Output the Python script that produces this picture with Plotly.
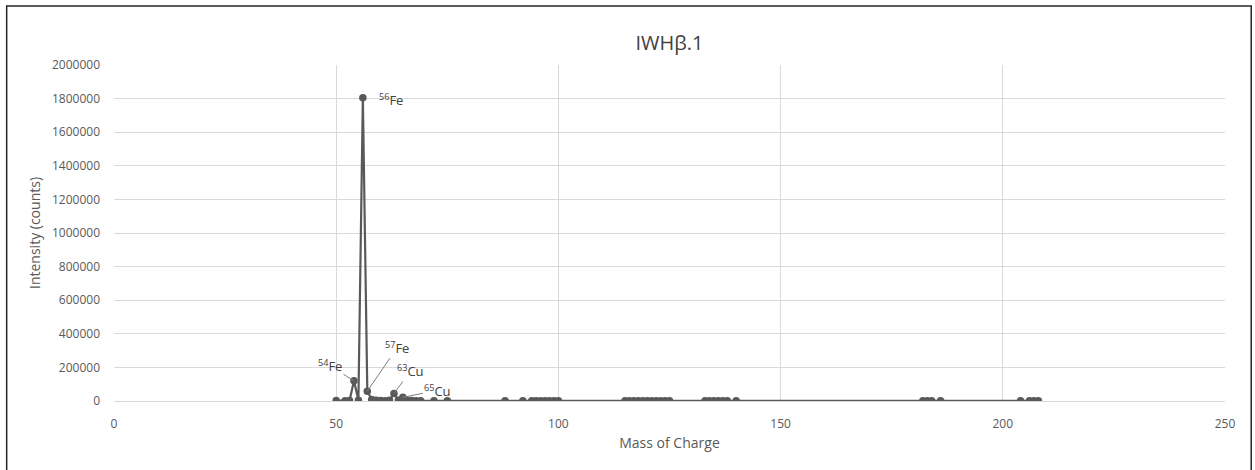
import plotly.graph_objects as go

mass = [50, 52, 53, 54, 55, 56, 57, 58, 59, 60, 61, 62, 63, 64, 65, 66, 67, 68, 69, 72, 75,
        88, 92, 94, 95, 96, 97, 98, 99, 100,
        115, 116, 117, 118, 119, 120, 121, 122, 123, 124, 125,
        133, 134, 135, 136, 137, 138, 140,
        182, 183, 184, 186,
        204, 206, 207, 208]
intensity = [3000, 2000, 3000, 120000, 4000, 1805000, 58000, 9000, 4000, 3000, 2000, 4000, 45000, 5000, 22000,
             4000, 3000, 2000, 1500, 1200, 1200,
             1000, 1000, 1000, 1000, 1000, 1000, 1000, 1000, 1000,
             1000, 1000, 1000, 1000, 1000, 1000, 1000, 1000, 1000, 1000, 1000,
             1000, 1000, 1000, 1000, 1000, 1000, 1000,
             1000, 1000, 1000, 1000,
             1000, 1000, 1000, 1000]

label_mass = [56, 54, 57, 63, 65]
label_text = ["<sup>56</sup>Fe", "<sup>54</sup>Fe", "<sup>57</sup>Fe", "<sup>63</sup>Cu", "<sup>65</sup>Cu"]

x_ticks = [0, 50, 100, 150, 200, 250]
y_ticks = list(range(0, 2000001, 200000))

gray = "#595959"
fig = go.Figure()
fig.add_trace(go.Scatter(x=mass, y=intensity, mode="lines+markers",
                         line=dict(color=gray, width=2.2),
                         marker=dict(color=gray, size=7.5),
                         showlegend=False, hoverinfo="skip"))

# label offsets (pixels) of text centre from the point
offsets = [None, (-24, -15), (30, -44), (17, -23), (35, -7)]
for m, txt, off in zip(label_mass, label_text, offsets):
    yv = intensity[mass.index(m)]
    if off is None:
        fig.add_annotation(x=m, y=yv, text=txt, showarrow=False, xanchor="left",
                           xshift=14, yshift=-2, font=dict(size=13, color="#404040"))
    else:
        fig.add_annotation(x=m, y=yv, text=txt, showarrow=True, arrowhead=0,
                           arrowwidth=1, arrowcolor="#7f7f7f", ax=off[0], ay=off[1],
                           xanchor="center", yanchor="middle",
                           font=dict(size=13, color="#404040"))

fig.add_shape(type="rect", xref="paper", yref="paper",
              x0=-0.0966, x1=1.0236, y0=-0.4, y1=1.1756,
              line=dict(color="#262626", width=1.5), fillcolor="rgba(0,0,0,0)")

fig.update_layout(
    width=1255, height=470,
    margin=dict(l=114, r=30, t=65, b=69),
    paper_bgcolor="white", plot_bgcolor="white",
    font=dict(family="Open Sans, Liberation Sans, sans-serif", color=gray, size=12),
    title=dict(text="IWHβ.1", x=0.5, xref="paper", xanchor="center",
               y=1 - 43 / 470, yanchor="middle", font=dict(size=20, color="#404040")),
    xaxis=dict(range=[0, 250], tickvals=x_ticks, showgrid=True, gridcolor="#d9d9d9",
               zeroline=False, showline=True, linecolor="#d9d9d9", ticks="",
               ticklabelstandoff=12,
               title=dict(text="Mass of Charge", font=dict(size=14, color=gray), standoff=6),
               tickfont=dict(size=12, color=gray)),
    yaxis=dict(range=[0, 2000000], tickvals=y_ticks, showgrid=True, gridcolor="#d9d9d9",
               zeroline=False, showline=False, ticks="", tickformat="d",
               ticklabelstandoff=13,
               title=dict(text="Intensity (counts)", font=dict(size=14, color=gray), standoff=8),
               tickfont=dict(size=12, color=gray)),
)

fig.write_html("out.html", config={"displayModeBar": False},
               post_script="document.body.style.margin='0';")
